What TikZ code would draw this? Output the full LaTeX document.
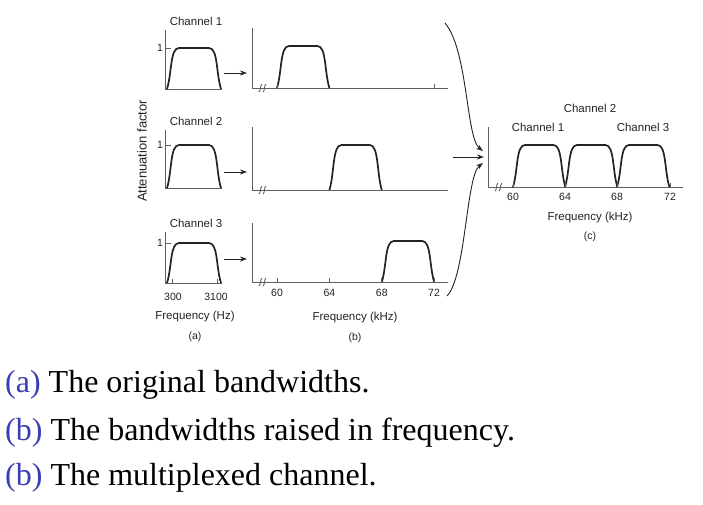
\documentclass[tikz,border=0pt]{standalone}
\usepackage{fontspec}
\setmainfont{Liberation Serif}
\setsansfont{Liberation Sans}
\usetikzlibrary{positioning, arrows.meta, calc}
\definecolor{capblue}{RGB}{58,62,178}
\definecolor{ink}{RGB}{35,35,35}
\definecolor{axisgray}{RGB}{95,95,95}
% pulse: x0, x1, baseline, top
\newcommand{\pulse}[4]{%
    \draw[pulse] (#1,#3) .. controls (#1+5,#3-16) and (#1+3,#4) .. (#1+12,#4)
        -- (#2-12,#4) .. controls (#2-3,#4) and (#2-5,#3-16) .. (#2,#3);}
% axis break mark at x, y
\newcommand{\brk}[2]{%
    \draw[axis] (#1-3,#2+4) .. controls (#1-1,#2+3) and (#1-2,#2-3) .. (#1,#2-4);
    \draw[axis] (#1+1,#2+4) .. controls (#1+3,#2+3) and (#1+2,#2-3) .. (#1+4,#2-4);}
\newcommand{\sm}[1]{{\fontsize{11.5}{13}\selectfont\sffamily #1}}
\newcommand{\tk}[1]{{\fontsize{10.5}{12}\selectfont\sffamily #1}}

\begin{document}
\begin{tikzpicture}[
    x=1pt, y=-1pt,
    axis/.style={draw=axisgray, line width=0.9pt},
    pulse/.style={draw=ink, line width=1.7pt},
    lbl/.style={text=ink, inner sep=0pt},
    feed/.style={draw=ink, line width=0.9pt, -{Stealth[length=7pt, width=5pt]}},
    caption/.style={anchor=base west, inner sep=0pt, font=\fontsize{32}{36}\selectfont}
]
    \useasboundingbox (0,0) rectangle (703,504);

    % --- (a) original bandwidths ---
    \foreach \top/\base/\ytop/\row in {48/89/30/1, 145/188/130/2, 243/283/232/3}{
        \draw[axis] (165,\ytop) -- (165,\base) -- (222,\base);
        \draw[axis] (165,\top) -- (171,\top);
        \node[lbl] at (160,\top) {\tk{1}};
        \pulse{167}{221}{\base}{\top}
        \node[lbl] (cha\row) at (196,\ytop-9) {\sm{Channel \row}};
    }
    \draw[axis] (172,283) -- (172,279);
    \draw[axis] (217,283) -- (217,279);
    \node[lbl, rotate=90] (att) at (142,151) {{\fontsize{13}{15}\selectfont\sffamily Attenuation factor}};
    \node[lbl] (lo) at (173,297) {\tk{300}};
    \node[lbl] (hi) at (216,297) {\tk{3100}};
    \node[lbl] (fha) at (195,317) {\sm{Frequency (Hz)}};
    \node[lbl] (capa) at (195,337) {\tk{(a)}};

    % --- (b) raised in frequency ---
    \foreach \top/\base/\ytop/\xa in {46/88/28/277, 145/190/127/329.4, 241/282/223/381.8}{
        \draw[axis] (252,\ytop) -- (252,\base) -- (448,\base);
        \brk{262}{\base}
        \pulse{\xa}{\xa+52.4}{\base}{\top}
    }
    \draw[axis] (277,88) -- (277,84);
    \draw[axis] (434,88) -- (434,84);
    \foreach \f/\x in {60/277, 64/329.4, 68/381.8, 72/434}{
        \draw[axis] (\x,282) -- (\x,278);
        \node[lbl] (b\f) at (\x,293) {\tk{\f}};
    }
    \node[lbl] (fhb) at (355,318) {\sm{Frequency (kHz)}};
    \node[lbl] (capb) at (355,338) {\tk{(b)}};

    % --- arrows (a) -> (b) ---
    \foreach \y in {73, 172, 259}{
        \coordinate (s\y) at (224,\y);
        \coordinate (e\y) at (247,\y);
        \draw[feed] (s\y) -- (e\y);
    }

    % --- (c) multiplexed channel ---
    \draw[axis] (488,127) -- (488,187) -- (683,187);
    \brk{498}{187}
    \foreach \xa in {513, 565, 617}{
        \pulse{\xa}{\xa+52.4}{187}{145}
    }
    \foreach \f/\x in {60/513, 64/565, 68/617, 72/670}{
        \draw[axis] (\x,187) -- (\x,183);
        \node[lbl] (c\f) at (\x,197) {\tk{\f}};
    }
    \node[lbl] (chc2) at (590,108) {\sm{Channel 2}};
    \node[lbl] (chc1) at (538,127) {\sm{Channel 1}};
    \node[lbl] (chc3) at (643,127) {\sm{Channel 3}};
    \node[lbl] (fhc) at (590,218) {\sm{Frequency (kHz)}};
    \node[lbl] (capc) at (590,237) {\tk{(c)}};

    % --- arrows (b) -> (c) ---
    \coordinate (topin) at (445,23);
    \coordinate (midin) at (453,157);
    \coordinate (botin) at (447,296);
    \coordinate (topend) at (483,151);
    \coordinate (midend) at (484,157);
    \coordinate (botend) at (483,163);
    \draw[feed] (topin) .. controls (468,50) and (466,138) .. (topend);
    \draw[feed] (midin) -- (midend);
    \draw[feed] (botin) .. controls (466,276) and (466,176) .. (botend);

    % --- captions ---
    \node[caption] (la) at (5,392) {\textcolor{capblue}{(a)} The original bandwidths.};
    \node[caption] (lb) at (5,440) {\textcolor{capblue}{(b)} The bandwidths raised in frequency.};
    \node[caption] (lc) at (5,485) {\textcolor{capblue}{(b)} The multiplexed channel.};
\end{tikzpicture}
\end{document}
